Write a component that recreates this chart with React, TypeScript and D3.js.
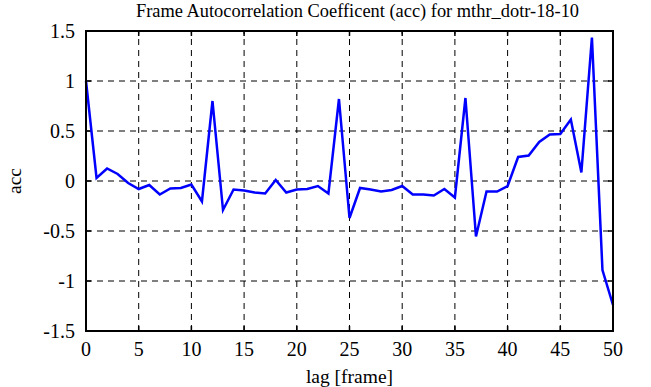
import React from 'react';
import * as d3 from 'd3';

const lags = d3.range(0, 51);
const acc = [
  1.0, 0.03, 0.125, 0.07, -0.02, -0.08, -0.04, -0.135, -0.075, -0.07,
  -0.035, -0.205, 0.8, -0.29, -0.085, -0.095, -0.115, -0.125, 0.01, -0.115,
  -0.085, -0.08, -0.05, -0.125, 0.82, -0.37, -0.07, -0.085, -0.105, -0.09,
  -0.05, -0.135, -0.135, -0.145, -0.08, -0.165, 0.83, -0.555, -0.105, -0.105,
  -0.05, 0.24, 0.255, 0.39, 0.465, 0.47, 0.615, 0.085, 1.435, -0.89,
  -1.24,
];
const xTicks = [0, 5, 10, 15, 20, 25, 30, 35, 40, 45, 50];
const yTicks = [-1.5, -1, -0.5, 0, 0.5, 1, 1.5];

const W = 651;
const H = 387;
const m = { left: 86, right: 38, top: 31, bottom: 56 };
const font = '"Liberation Serif", "DejaVu Serif", serif';

export default function App() {
  const x = d3.scaleLinear().domain([0, 50]).range([m.left, W - m.right]);
  const y = d3.scaleLinear().domain([-1.5, 1.5]).range([H - m.bottom, m.top]);
  const line = d3
    .line<number>()
    .x((_, i) => x(lags[i]))
    .y((d) => y(d));

  const x0 = x(0), x1 = x(50), y0 = y(-1.5), y1 = y(1.5);

  return (
    <svg width={W} height={H} style={{ position: 'absolute', left: 0, top: 0, background: '#fff' }}>
      <text x={(x0 + x1) / 2 + 8} y={17} textAnchor="middle" fontFamily={font} fontSize={18.4}>
        Frame Autocorrelation Coefficent (acc) for mthr_dotr-18-10
      </text>
      {/* grid */}
      {xTicks.slice(1, -1).map((t) => (
        <line key={'gx' + t} x1={x(t)} x2={x(t)} y1={y0} y2={y1} stroke="#000" strokeWidth={1} strokeDasharray="6,5" />
      ))}
      {yTicks.slice(1, -1).map((t) => (
        <line key={'gy' + t} x1={x0} x2={x1} y1={y(t)} y2={y(t)} stroke="#000" strokeWidth={1} strokeDasharray="6,5" />
      ))}
      {/* ticks */}
      {xTicks.map((t) => (
        <g key={'tx' + t}>
          <line x1={x(t)} x2={x(t)} y1={y0} y2={y0 - 5} stroke="#000" strokeWidth={1.5} />
          <line x1={x(t)} x2={x(t)} y1={y1} y2={y1 + 5} stroke="#000" strokeWidth={1.5} />
          <text x={x(t)} y={y0 + 25} textAnchor="middle" fontFamily={font} fontSize={20}>{t}</text>
        </g>
      ))}
      {yTicks.map((t) => (
        <g key={'ty' + t}>
          <line x1={x0} x2={x0 + 5} y1={y(t)} y2={y(t)} stroke="#000" strokeWidth={1.5} />
          <line x1={x1} x2={x1 - 5} y1={y(t)} y2={y(t)} stroke="#000" strokeWidth={1.5} />
          <text x={x0 - 11} y={y(t) + 7} textAnchor="end" fontFamily={font} fontSize={20}>{t}</text>
        </g>
      ))}
      <path d={line(acc) ?? ''} fill="none" stroke="#0000ff" strokeWidth={2.5} strokeLinejoin="miter" />
      <rect x={x0} y={y1} width={x1 - x0} height={y0 - y1} fill="none" stroke="#000" strokeWidth={2} />
      <text x={(x0 + x1) / 2} y={H - 4} textAnchor="middle" fontFamily={font} fontSize={19.5}>lag [frame]</text>
      <text transform={`translate(21,${(y0 + y1) / 2}) rotate(-90)`} textAnchor="middle" fontFamily={font} fontSize={19.5}>acc</text>
    </svg>
  );
}
